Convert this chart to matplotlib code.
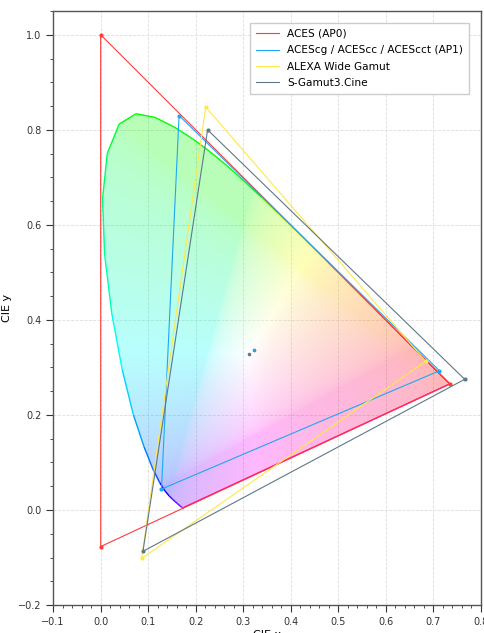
import numpy as np
import matplotlib
matplotlib.use("Agg")
import matplotlib.pyplot as plt
from matplotlib.path import Path
from matplotlib.patches import PathPatch
from matplotlib.collections import LineCollection
from matplotlib.ticker import MultipleLocator

# CIE 1931 2 degree spectral locus, 380-700 nm every 5 nm
locus_x = [0.1741, 0.1740, 0.1738, 0.1736, 0.1733, 0.1730, 0.1726, 0.1721, 0.1714, 0.1703,
           0.1689, 0.1669, 0.1644, 0.1611, 0.1566, 0.1510, 0.1440, 0.1355, 0.1241, 0.1096,
           0.0913, 0.0687, 0.0454, 0.0235, 0.0082, 0.0039, 0.0139, 0.0389, 0.0743, 0.1142,
           0.1547, 0.1929, 0.2296, 0.2658, 0.3016, 0.3373, 0.3731, 0.4087, 0.4441, 0.4788,
           0.5125, 0.5448, 0.5752, 0.6029, 0.6270, 0.6482, 0.6658, 0.6801, 0.6915, 0.7006,
           0.7079, 0.7140, 0.7190, 0.7230, 0.7260, 0.7283, 0.7300, 0.7311, 0.7320, 0.7327,
           0.7334, 0.7340, 0.7344, 0.7346, 0.7347]
locus_y = [0.0050, 0.0050, 0.0049, 0.0049, 0.0048, 0.0048, 0.0048, 0.0048, 0.0051, 0.0058,
           0.0069, 0.0086, 0.0109, 0.0138, 0.0177, 0.0227, 0.0297, 0.0399, 0.0578, 0.0868,
           0.1327, 0.2007, 0.2950, 0.4127, 0.5384, 0.6548, 0.7502, 0.8120, 0.8338, 0.8262,
           0.8059, 0.7816, 0.7543, 0.7243, 0.6923, 0.6589, 0.6245, 0.5896, 0.5547, 0.5202,
           0.4866, 0.4544, 0.4242, 0.3965, 0.3725, 0.3514, 0.3340, 0.3197, 0.3083, 0.2993,
           0.2920, 0.2859, 0.2809, 0.2770, 0.2740, 0.2717, 0.2700, 0.2689, 0.2680, 0.2673,
           0.2666, 0.2660, 0.2656, 0.2654, 0.2653]

# gamuts: name, primaries (R, G, B), whitepoint, colour
names = ["ACES (AP0)", "ACEScg / ACEScc / ACEScct (AP1)", "ALEXA Wide Gamut", "S-Gamut3.Cine"]
prim_x = [[0.7347, 0.0000, 0.0001],
          [0.7130, 0.1650, 0.1280],
          [0.6840, 0.2210, 0.0861],
          [0.7660, 0.2250, 0.0890]]
prim_y = [[0.2653, 1.0000, -0.0770],
          [0.2930, 0.8300, 0.0440],
          [0.3130, 0.8480, -0.1020],
          [0.2750, 0.8000, -0.0870]]
white_x = [0.32168, 0.32168, 0.3127, 0.3127]
white_y = [0.33767, 0.33767, 0.3290, 0.3290]
colors = ["#ff3b3b", "#1ea7f5", "#ffe84a", "#5f7887"]

M = np.array([[3.2406, -1.5372, -0.4986],
              [-0.9689, 1.8758, 0.0415],
              [0.0557, -0.2040, 1.0570]])


def xy_to_rgb(x, y):
    # xy with Y=1 -> normalised, encoded sRGB
    y = np.maximum(y, 1e-6)
    XYZ = np.stack([x / y, np.ones_like(x), (1 - x - y) / y], axis=-1)
    rgb = XYZ @ M.T
    rgb = rgb / np.max(rgb, axis=-1, keepdims=True)
    rgb = np.clip(rgb, 0, 1)
    return np.where(rgb <= 0.0031308, 12.92 * rgb, 1.055 * rgb ** (1 / 2.4) - 0.055)


fig = plt.figure(figsize=(4.85, 6.33), dpi=100)
ax = fig.add_axes([0.109, 0.0442, 0.883, 0.9384])

# diagram colours, clipped to spectral locus
xs = np.linspace(-0.1, 0.8, 450)
ys = np.linspace(-0.2, 1.05, 620)
gx, gy = np.meshgrid(xs, ys)
img = xy_to_rgb(gx, gy)
im = ax.imshow(img, origin="lower", extent=(-0.1, 0.8, -0.2, 1.05),
               interpolation="bilinear", alpha=0.28, zorder=1)
poly = np.column_stack([locus_x + [locus_x[0]], locus_y + [locus_y[0]]])
clip = PathPatch(Path(poly), facecolor="none", edgecolor="none", transform=ax.transData)
ax.add_patch(clip)
im.set_clip_path(clip)

# spectral locus edge
lx = np.array(poly[:, 0])
ly = np.array(poly[:, 1])
segs = np.stack([np.column_stack([lx[:-1], ly[:-1]]), np.column_stack([lx[1:], ly[1:]])], axis=1)
mid_x = (lx[:-1] + lx[1:]) / 2
mid_y = (ly[:-1] + ly[1:]) / 2
lc = LineCollection(segs, colors=xy_to_rgb(mid_x, mid_y), linewidths=1.0, zorder=2)
ax.add_collection(lc)

for i in range(len(names)):
    px = prim_x[i] + [prim_x[i][0]]
    py = prim_y[i] + [prim_y[i][0]]
    ax.plot(px, py, color=colors[i], lw=0.8, label=names[i], zorder=3)
    ax.plot(prim_x[i], prim_y[i], "o", color=colors[i], ms=2, zorder=3)
    ax.plot(white_x[i], white_y[i], "o", color=colors[i], ms=1.5, zorder=3)

ax.set_xlim(-0.1, 0.8)
ax.set_ylim(-0.2, 1.05)
ax.set_aspect("equal")
ax.xaxis.set_major_locator(MultipleLocator(0.1))
ax.xaxis.set_minor_locator(MultipleLocator(0.02))
ax.yaxis.set_major_locator(MultipleLocator(0.2))
ax.yaxis.set_minor_locator(MultipleLocator(0.05))
ax.tick_params(which="major", length=5, width=0.8, labelsize=7, colors="#333333")
ax.tick_params(which="minor", length=2.5, width=0.6, colors="#333333")
ax.grid(True, which="major", color="#dddddd", linestyle="--", lw=0.6, zorder=0)
ax.set_axisbelow(True)
for s in ax.spines.values():
    s.set_color("#555555")
    s.set_linewidth(1.0)
ax.set_xlabel("CIE x", fontsize=8, labelpad=2)
ax.set_ylabel("CIE y", fontsize=8)

leg = ax.legend(loc="upper right", fontsize=7.6, fancybox=False, framealpha=1.0,
                edgecolor="#cccccc", handlelength=2.1, borderpad=0.6,
                borderaxespad=1.1, labelspacing=0.6)

fig.savefig("out.png", dpi=100)
